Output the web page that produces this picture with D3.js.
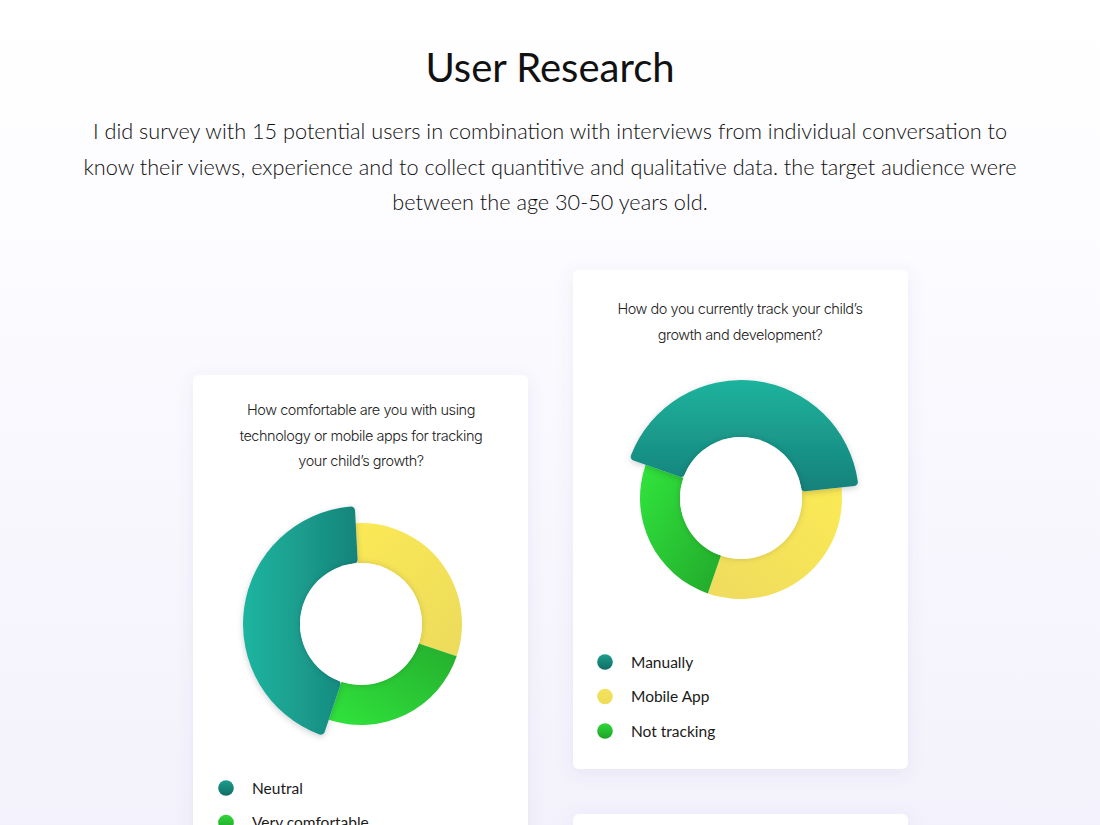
<!DOCTYPE html>
<html><head><meta charset="utf-8">
<script src="https://cdn.jsdelivr.net/npm/d3@7"></script>
<style>
html,body{margin:0;padding:0;background:#fff;}
svg{display:block;}
</style></head>
<body><svg id="c" width="1100" height="825"></svg>
<script>
// ---------- data ----------
const titleText = "User Research";
const introLines = [
  "I did survey with 15 potential users in combination with interviews from individual conversation to",
  "know their views, experience and to collect quantitive and qualitative data. the target audience were",
  "between the age 30-50 years old."
];
// chart 1 (pie order, clockwise from top)
const q1Lines = ["How comfortable are you with using", "technology or mobile apps for tracking", "your child’s growth?"];
const cats1 = ["Comfortable", "Very comfortable", "Neutral"];
const values1 = [31, 25, 44];
const legend1 = ["Neutral", "Very comfortable", "Comfortable"];
// chart 2
const q2Lines = ["How do you currently track your child’s", "growth and development?"];
const cats2 = ["Mobile App", "Not tracking", "Manually"];
const values2 = [32, 25, 43];
const legend2 = ["Manually", "Mobile App", "Not tracking"];

const colorKey = {
  "Neutral": "teal", "Manually": "teal",
  "Comfortable": "yellow", "Mobile App": "yellow",
  "Very comfortable": "green", "Not tracking": "green"
};

// ---------- drawing ----------
const svg = d3.select("#c");
const defs = svg.append("defs");

const bg = defs.append("linearGradient").attr("id","bg").attr("x1",0).attr("y1",0).attr("x2",0).attr("y2",1);
bg.append("stop").attr("offset","0%").attr("stop-color","#ffffff");
bg.append("stop").attr("offset","22%").attr("stop-color","#fdfcff");
bg.append("stop").attr("offset","100%").attr("stop-color","#f3f2fc");
svg.append("rect").attr("width",1100).attr("height",825).attr("fill","url(#bg)");

function grad(id, x1,y1,x2,y2, c1, c2){
  const g = defs.append("linearGradient").attr("id",id)
    .attr("x1",x1).attr("y1",y1).attr("x2",x2).attr("y2",y2);
  g.append("stop").attr("offset","0%").attr("stop-color",c1);
  g.append("stop").attr("offset","100%").attr("stop-color",c2);
}
grad("t1", 0,0,1,0, "#1fb5a0", "#16847a");
grad("y1", 0,0,1,1, "#fbe955", "#ecdb5c");
grad("g1", 0,1,1,0, "#30e43c", "#25ad2e");
grad("t2", 0,0,0,1, "#1fb39d", "#15817a");
grad("y2", 1,0,0,1, "#fbea55", "#efdb5e");
grad("g2", 0,0,1,1, "#31e53d", "#22a82b");
grad("lt", 0,0,0,1, "#1b9e8d", "#126c64");
grad("ly", 0,0,0,1, "#f3e25d", "#eedc59");
grad("lg", 0,0,0,1, "#30d83a", "#1fa128");

const cardF = defs.append("filter").attr("id","cardShadow").attr("x","-20%").attr("y","-20%").attr("width","140%").attr("height","140%");
cardF.append("feDropShadow").attr("dx",0).attr("dy",4).attr("stdDeviation",8).attr("flood-color","#6a64a8").attr("flood-opacity",0.10);
const sliceF = defs.append("filter").attr("id","sliceShadow").attr("x","-30%").attr("y","-30%").attr("width","160%").attr("height","160%");
sliceF.append("feDropShadow").attr("dx",0).attr("dy",2).attr("stdDeviation",3).attr("flood-color","#000").attr("flood-opacity",0.18);
const holeF = defs.append("filter").attr("id","holeShadow").attr("x","-30%").attr("y","-30%").attr("width","160%").attr("height","160%");
holeF.append("feDropShadow").attr("dx",0).attr("dy",0).attr("stdDeviation",3).attr("flood-color","#000").attr("flood-opacity",0.16);

const sansGeo = "Lato, 'Open Sans', sans-serif";
const sansQ = "Inter, 'Noto Sans', sans-serif";

svg.append("text").attr("x",550).attr("y",82).attr("text-anchor","middle")
  .attr("font-family",sansGeo).attr("font-size",40).attr("font-weight",400)
  .attr("fill","#111").text(titleText);
svg.append("g").selectAll("text").data(introLines).join("text")
  .attr("x",550).attr("y",(d,i)=>139+i*35.5).attr("text-anchor","middle")
  .attr("font-family",sansGeo).attr("font-size",21.7).attr("font-weight",300)
  .attr("fill","#0e0e0e").text(d=>d);

const cards = [
  {x:193, y:375, w:335, h:520},
  {x:573, y:270, w:335, h:499},
  {x:573, y:814, w:335, h:300}
];
svg.append("g").selectAll("rect").data(cards).join("rect")
  .attr("x",d=>d.x).attr("y",d=>d.y).attr("width",d=>d.w).attr("height",d=>d.h)
  .attr("rx",6).attr("fill","#ffffff").attr("filter","url(#cardShadow)");

function donut(cfg){
  const g = svg.append("g");
  g.append("g").selectAll("text").data(cfg.q).join("text")
    .attr("x",cfg.qx).attr("y",(d,i)=>cfg.qy+i*25.5).attr("text-anchor","middle")
    .attr("font-family",sansQ).attr("font-size",14.5).attr("font-weight",300).attr("letter-spacing",-0.45)
    .attr("fill","#222").text(d=>d);

  const pie = d3.pie().sort(null).value(d=>d.v)
    .startAngle(cfg.start*Math.PI/180).endAngle(cfg.start*Math.PI/180 + 2*Math.PI);
  const data = cfg.cats.map((c,i)=>({c, v:cfg.vals[i]}));
  const arcs = pie(data);
  const rIn = 61, rOut = 101, rBig = 118;
  const arcN = d3.arc().innerRadius(rIn).outerRadius(rOut);
  const arcB = d3.arc().innerRadius(rIn).outerRadius(rBig).cornerRadius(4);
  const cg = g.append("g").attr("transform",`translate(${cfg.cx},${cfg.cy})`);
  const suffix = cfg.suffix;
  const fillOf = c => `url(#${colorKey[c][0]}${suffix})`;
  cg.selectAll("path.n").data(arcs.filter(a=>colorKey[a.data.c]!=="teal")).join("path")
    .attr("class","n").attr("d",arcN).attr("fill",d=>fillOf(d.data.c));
  cg.selectAll("path.b").data(arcs.filter(a=>colorKey[a.data.c]==="teal")).join("path")
    .attr("class","b").attr("d",arcB).attr("fill",d=>fillOf(d.data.c))
    .attr("filter","url(#sliceShadow)");
  cg.append("circle").attr("r",rIn).attr("fill","#ffffff").attr("filter","url(#holeShadow)");

  const lg = g.append("g").selectAll("g").data(cfg.legend).join("g")
    .attr("transform",(d,i)=>`translate(${cfg.lx},${cfg.ly+i*34.5})`);
  lg.append("circle").attr("r",7.8).attr("fill",d=>`url(#l${colorKey[d][0]})`);
  lg.append("text").attr("x",26).attr("y",5.5)
    .attr("font-family",sansGeo).attr("font-size",15.5).attr("font-weight",400)
    .attr("fill","#1a1a1a").text(d=>d);
}

donut({q:q1Lines, qx:361, qy:415, cats:cats1, vals:values1, start:-3, cx:361, cy:624,
  suffix:"1", legend:legend1, lx:226, ly:788});
donut({q:q2Lines, qx:740, qy:314, cats:cats2, vals:values2, start:84, cx:741, cy:498,
  suffix:"2", legend:legend2, lx:605, ly:662});
</script></body></html>
